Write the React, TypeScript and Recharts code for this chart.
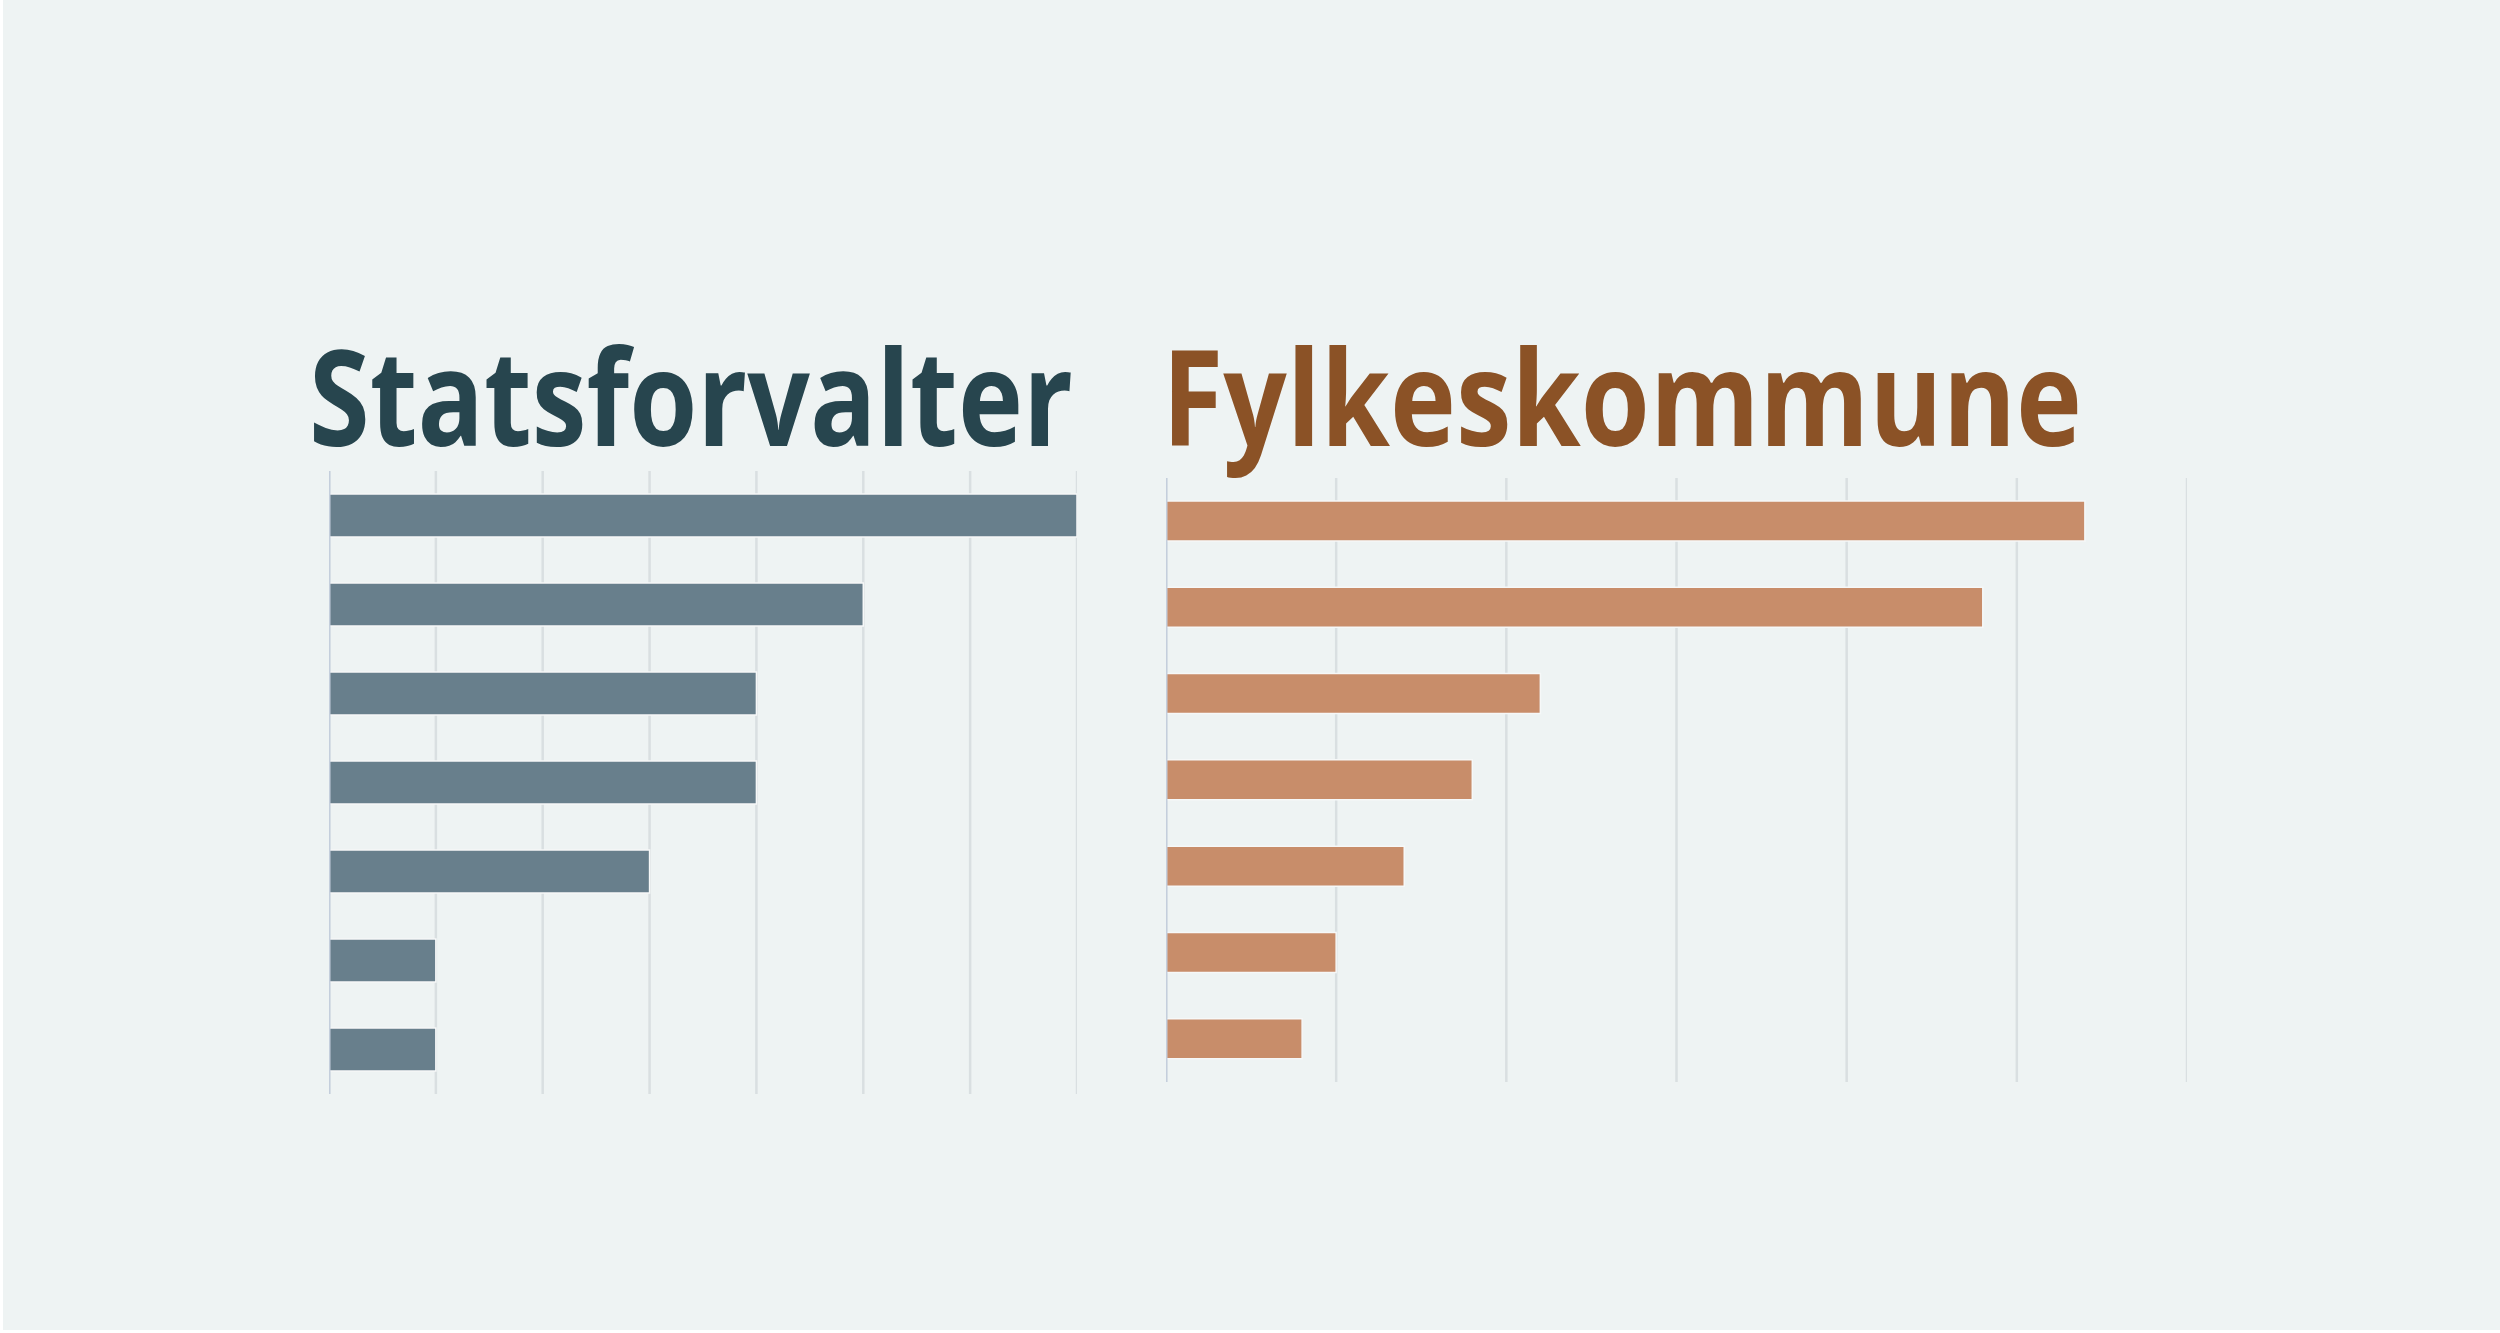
import React from 'react';
import { BarChart, Bar, XAxis, YAxis, CartesianGrid, ReferenceLine } from 'recharts';

// categories are unlabeled in the original, keep simple ids
const categories = ['A', 'B', 'C', 'D', 'E', 'F', 'G'];
const statsforvalterValues = [7, 5, 4, 4, 3, 1, 1];
const fylkeskommuneValues = [27, 24, 11, 9, 7, 5, 4];
const statsTicks = [0, 1, 2, 3, 4, 5, 6, 7];
const fylkeTicks = [0, 5, 10, 15, 20, 25, 30];

const statsData = categories.map((c, i) => ({ name: c, value: statsforvalterValues[i] }));
const fylkeData = categories.map((c, i) => ({ name: c, value: fylkeskommuneValues[i] }));

const BG = '#eef3f3';
const GRID = '#d9dfe1';
const AXIS = '#c4cedc';

function Panel({ data, ticks, color, barSize, left, top, width, height }) {
  return (
    <div style={{ position: 'absolute', left, top, width, height }}>
      <BarChart
        width={width}
        height={height}
        data={data}
        layout="vertical"
        margin={{ top: 0, right: 0, bottom: 0, left: 0 }}
        barCategoryGap={0}
      >
        <CartesianGrid horizontal={false} stroke={GRID} strokeWidth={2.5} />
        <XAxis type="number" domain={[ticks[0], ticks[ticks.length - 1]]} ticks={ticks} hide />
        <YAxis type="category" dataKey="name" hide />
        <Bar
          dataKey="value"
          fill={color}
          barSize={barSize}
          stroke="#f6f8f8"
          strokeWidth={1.5}
          isAnimationActive={false}
        />
        <ReferenceLine x={0} stroke={AXIS} strokeWidth={3} ifOverflow="extendDomain" />
      </BarChart>
    </div>
  );
}

export default function App() {
  return (
    <div style={{ position: 'absolute', left: 0, top: 0, width: 2500, height: 1333, background: '#ffffff' }}>
      <div style={{ position: 'absolute', left: 3, top: 0, width: 2497, height: 1330, background: BG }} />
      <svg
        width={2500}
        height={1333}
        style={{ position: 'absolute', left: 0, top: 0 }}
      >
        <text
          x={309}
          y={446}
          fontFamily="'Open Sans', 'Noto Sans', sans-serif"
          fontWeight={700}
          fontSize={132}
          fill="#27454e"
          textLength={764}
          lengthAdjust="spacingAndGlyphs"
        >
          Statsforvalter
        </text>
        <text
          x={1162}
          y={446}
          fontFamily="'Open Sans', 'Noto Sans', sans-serif"
          fontWeight={700}
          fontSize={132}
          fill="#8b5226"
          textLength={920}
          lengthAdjust="spacingAndGlyphs"
        >
          Fylkeskommune
        </text>
      </svg>
      <Panel
        data={statsData}
        ticks={statsTicks}
        color="#687f8c"
        barSize={43}
        left={329}
        top={471}
        width={748}
        height={623}
      />
      <Panel
        data={fylkeData}
        ticks={fylkeTicks}
        color="#c88d6a"
        barSize={40}
        left={1166}
        top={478}
        width={1021}
        height={604}
      />
    </div>
  );
}
